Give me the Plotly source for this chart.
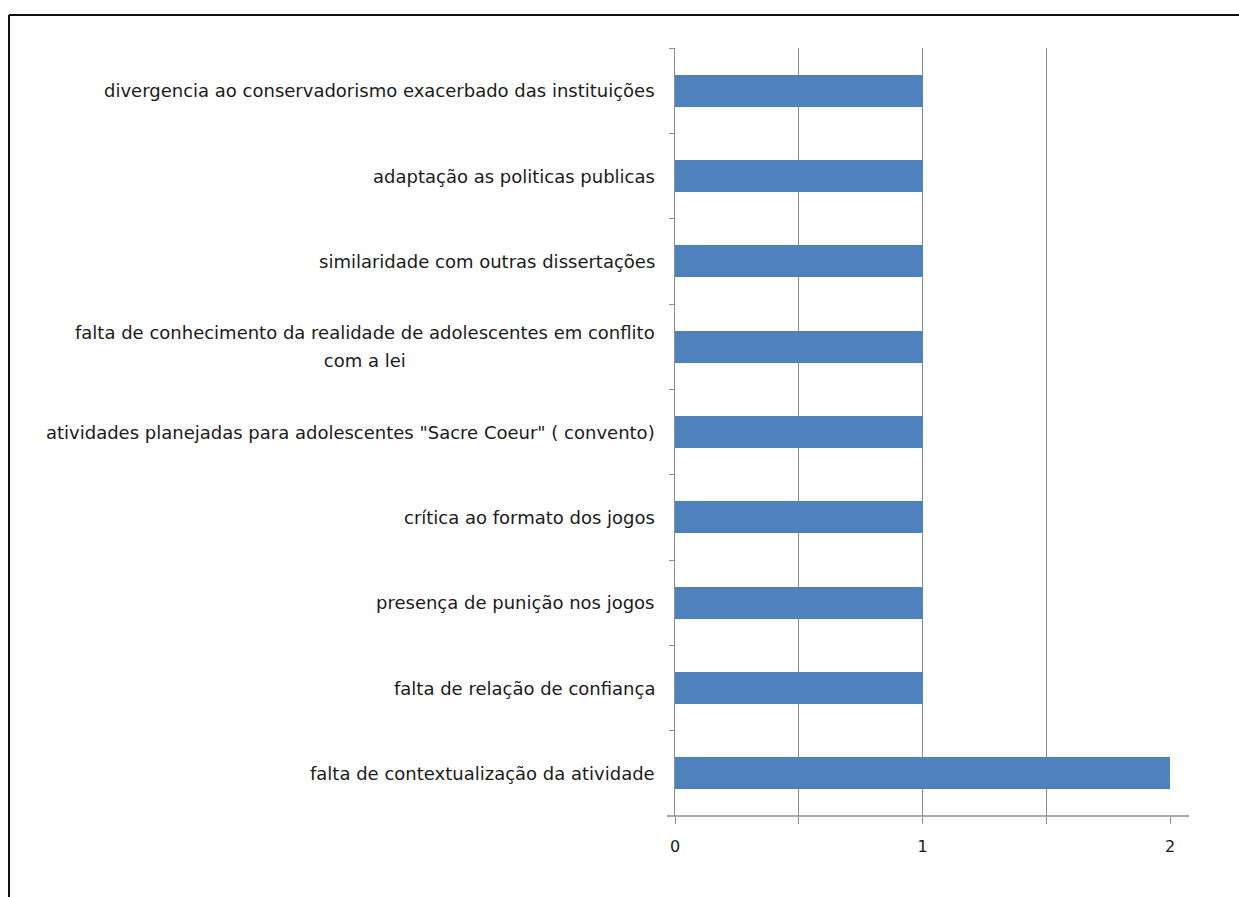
import plotly.graph_objects as go

categories = [
    "divergencia ao conservadorismo exacerbado das instituições",
    "adaptação as politicas publicas",
    "similaridade com outras dissertações",
    "falta de conhecimento da realidade de adolescentes em conflito<br>com a lei",
    "atividades planejadas para adolescentes \"Sacre Coeur\" ( convento)",
    "crítica ao formato dos jogos",
    "presença de punição nos jogos",
    "falta de relação de confiança",
    "falta de contextualização da atividade",
]
values = [1, 1, 1, 1, 1, 1, 1, 1, 2]
x_tickvals = [0, 0.5, 1, 1.5, 2]
x_ticktext = ["0", "", "1", "", "2"]

W, H = 1239, 897
L, R, T, B = 675, 1239 - 1170, 48, 897 - 816
pw = W - L - R
ph = H - T - B

FONT = "DejaVu Sans"
LABEL_SIZE = 18
GRID = "#8c8c8c"
TXT = "#1a1a1a"

fig = go.Figure()
fig.add_trace(go.Bar(
    y=categories, x=values, orientation="h",
    marker=dict(color="#4F81BD", line=dict(width=0)),
    width=0.375, showlegend=False,
))

for c in categories:
    fig.add_annotation(
        x=0, xref="x", y=c, yref="y",
        text=f"<span style='font-size:{LABEL_SIZE}px'>{c}</span>",
        showarrow=False,
        xanchor="right", yanchor="middle", align="center", xshift=-18,
        font=dict(family=FONT, size=21.5, color=TXT),
    )

fig.update_layout(
    width=W, height=H,
    margin=dict(l=L, r=R, t=T, b=B),
    paper_bgcolor="white", plot_bgcolor="white",
    bargap=0,
    font=dict(family=FONT, size=16, color=TXT),
    xaxis=dict(
        range=[0, 2], tickvals=x_tickvals, ticktext=x_ticktext,
        showgrid=True, gridcolor=GRID, gridwidth=1,
        zeroline=False, showline=False,
        ticks="outside", ticklen=7, tickcolor=GRID, tickwidth=1,
        ticklabelstandoff=9,
        tickfont=dict(family=FONT, size=16, color=TXT),
    ),
    yaxis=dict(
        autorange="reversed", type="category",
        showticklabels=False, showgrid=False, zeroline=False,
        showline=True, linecolor=GRID, linewidth=1,
        ticks="outside", ticklen=5, tickcolor=GRID, tickson="boundaries",
    ),
    shapes=[
        # extended x-axis line
        dict(type="line", xref="paper", yref="paper",
             x0=(667 - L) / pw, x1=(1189 - L) / pw, y0=0, y1=0,
             line=dict(color=GRID, width=1.5)),
        # outer frame (left and top)
        dict(type="line", xref="paper", yref="paper",
             x0=(9 - L) / pw, x1=(9 - L) / pw, y0=1 + (T - 15) / ph, y1=-(B + 5) / ph,
             line=dict(color="#111111", width=2)),
        dict(type="line", xref="paper", yref="paper",
             x0=(9 - L) / pw, x1=(W + 5 - L) / pw, y0=1 + (T - 15) / ph, y1=1 + (T - 15) / ph,
             line=dict(color="#111111", width=2)),
    ],
)

fig.write_html("out.html")
